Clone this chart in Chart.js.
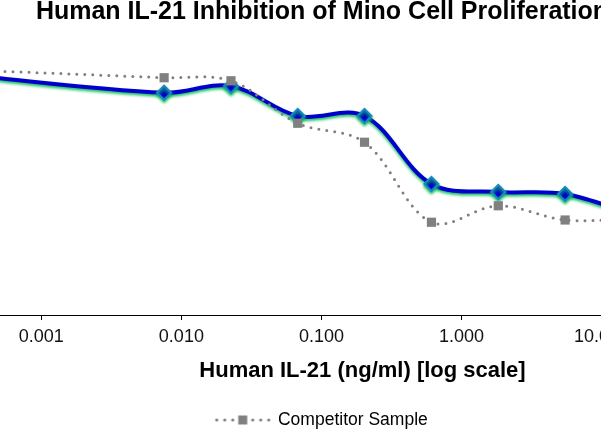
<!DOCTYPE html>
<html>
<head>
<meta charset="utf-8">
<title>Human IL-21 Inhibition of Mino Cell Proliferation</title>
<script src="https://cdn.jsdelivr.net/npm/chart.js@4.4.1/dist/chart.umd.min.js"></script>
<style>
  html, body { margin: 0; padding: 0; background: #fff; }
  body { width: 601px; height: 442px; overflow: hidden; position: relative; }
  /* the picture is a crop of a wider chart, so the canvas hangs off both sides */
  #myCanvas { position: absolute; left: -140px; top: 0; }
</style>
</head>
<body>
<canvas id="myCanvas" width="924" height="442"></canvas>
<script>
// concentrations (ng/ml), 3-fold dilutions
var concentrations = [0.00025, 0.00753, 0.0226, 0.0677, 0.203, 0.610, 1.83, 5.49, 16.5];
// relative proliferation
var il21Values = [96.4, 88.9, 91.6, 79.6, 79.6, 52.4, 49.2, 48.4, 40.4];
var competitorValues = [98.2, 94.9, 93.7, 76.7, 69.1, 37.1, 43.7, 38.0, 38.5];
var tickValues = [0.001, 0.01, 0.1, 1, 10, 100];

var FONT = "'Liberation Sans', Arial, Helvetica, sans-serif";

function points(ys) {
  var out = [];
  for (var i = 0; i < concentrations.length; i++) {
    out.push({ x: concentrations[i], y: ys[i] });
  }
  return out;
}

// little dotted-line-with-square icon for the legend
function legendIcon() {
  var c = document.createElement('canvas');
  c.width = 58; c.height = 10;
  var g = c.getContext('2d');
  g.fillStyle = '#808080';
  [3, 11, 19, 39, 47, 55].forEach(function (x) {
    g.beginPath(); g.arc(x, 5, 1.6, 0, Math.PI * 2); g.fill();
  });
  g.fillRect(24.5, 0.5, 9, 9);
  return c;
}
var icon = legendIcon();

// green glow under the blue curve
var glow = {
  id: 'glow',
  beforeDatasetDraw: function (chart, args) {
    if (args.index !== 1) return;
    var ctx = chart.ctx;
    ctx.save();
    ctx.shadowColor = 'rgba(0, 190, 80, 0.95)';
    ctx.shadowBlur = 3;
    ctx.shadowOffsetY = 2;
  },
  afterDatasetDraw: function (chart, args) {
    if (args.index === 1) chart.ctx.restore();
  }
};

var ctx = document.getElementById('myCanvas').getContext('2d');

var data = {
  datasets: [
    {
      label: 'Competitor Sample',
      data: points(competitorValues),
      borderColor: '#808080',
      backgroundColor: '#808080',
      borderWidth: 3,
      borderDash: [0, 8],
      borderCapStyle: 'round',
      tension: 0.35,
      pointStyle: 'rect',
      pointRadius: 6.5,
      pointBorderWidth: 0,
      pointBackgroundColor: '#808080'
    },
    {
      label: 'Human IL-21',
      data: points(il21Values),
      borderColor: '#0000CD',
      backgroundColor: '#0000CD',
      borderWidth: 4,
      tension: 0.35,
      pointStyle: 'rectRot',
      pointRadius: 7,
      pointBorderWidth: 2,
      pointBackgroundColor: '#0000CD',
      pointBorderColor: '#1A86C6'
    }
  ]
};

var options = {
  responsive: false,
  animation: false,
  devicePixelRatio: 1,
  layout: { padding: { left: 0, right: 0, top: 0, bottom: 3.25 } },
  plugins: {
    title: {
      display: true,
      text: 'Human IL-21 Inhibition of Mino Cell Proliferation',
      color: '#000',
      font: { family: FONT, size: 25, weight: 'bold', lineHeight: 1.0 },
      padding: { top: 0, bottom: 15 }
    },
    legend: {
      display: true,
      position: 'bottom',
      labels: {
        color: '#000',
        font: { family: FONT, size: 17.5 },
        padding: 10,
        usePointStyle: true,
        pointStyleWidth: 53,
        generateLabels: function (chart) {
          var items = Chart.defaults.plugins.legend.labels.generateLabels(chart);
          return items.filter(function (it) { return it.datasetIndex === 0; })
            .map(function (it) { it.pointStyle = icon; it.rotation = 0; return it; });
        }
      }
    },
    tooltip: { enabled: false }
  },
  scales: {
    x: {
      type: 'logarithmic',
      min: 2.229e-4,
      max: 173.0,
      border: { display: true, color: '#000', width: 1 },
      grid: { display: true, drawOnChartArea: false, drawTicks: true, tickLength: 5, color: '#000' },
      afterBuildTicks: function (axis) {
        axis.ticks = tickValues.filter(function (v) { return v >= axis.min && v <= axis.max; })
          .map(function (v) { return { value: v }; });
      },
      ticks: {
        autoSkip: false,
        maxRotation: 0,
        padding: 6,
        color: '#111',
        font: { family: FONT, size: 18 },
        callback: function (v) { return Number(v).toFixed(3); }
      },
      title: {
        display: true,
        text: 'Human IL-21 (ng/ml) [log scale]',
        color: '#000',
        font: { family: FONT, size: 22, weight: 'bold' },
        padding: { top: 4.5, bottom: 16.75 }
      }
    },
    y: {
      // value axis is outside the crop; keep its room but draw nothing
      min: 0,
      max: 110,
      grid: { display: false },
      border: { display: false },
      ticks: { display: false },
      afterFit: function (axis) { axis.width = 90; }
    }
  }
};

var chart = new Chart(ctx, {
  type: 'line',
  data: data,
  options: options,
  plugins: [glow]
});
</script>
</body>
</html>
